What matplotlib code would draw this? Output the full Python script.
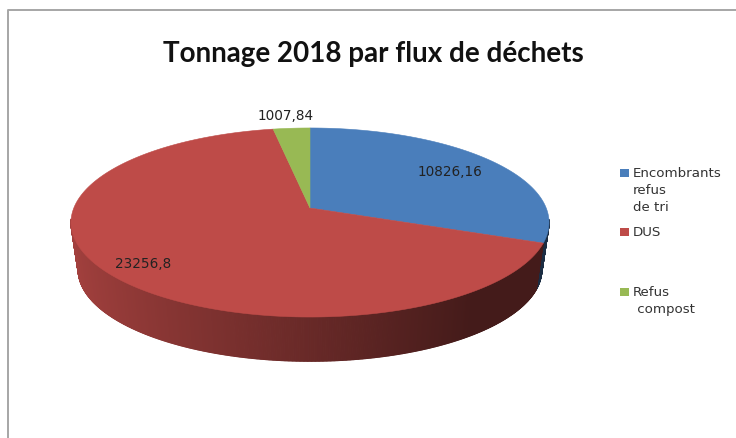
import numpy as np
import matplotlib
matplotlib.use("Agg")
import matplotlib.pyplot as plt
from matplotlib.patches import Polygon, Rectangle
from matplotlib.collections import PolyCollection

title = "Tonnage 2018 par flux de déchets"
categories = ["Encombrants\nrefus\nde tri", "DUS", "Refus\n compost"]
values = [10826.16, 23256.8, 1007.84]
value_labels = ["10826,16", "23256,8", "1007,84"]
colors = ["#4a7ebb", "#be4b48", "#98b954"]

W, H = 736, 439
fig = plt.figure(figsize=(W / 100, H / 100), dpi=100)
ax = fig.add_axes([0, 0, 1, 1])
ax.set_xlim(0, W)
ax.set_ylim(H, 0)
ax.axis("off")
plt.rcParams["font.family"] = ["DejaVu Sans"]

# perspective projection of the pie disc
CX, CY = 310.0, 209.0
K = 0.1534
RX, RY = 236.2, 92.3


def project(theta, scale=1.0, cy=CY):
    X, Y = np.sin(theta), np.cos(theta)
    w = 1 + K * Y
    return CX + scale * RX * X / w, cy - scale * RY * Y / w


BOT_S, BOT_CY = 0.97, 256.5
fractions = np.array(values) / np.sum(values)
edges = np.concatenate([[0], np.cumsum(fractions)]) * 2 * np.pi


def shade(c, t):
    rgb = np.array(matplotlib.colors.to_rgb(c))
    return tuple(rgb * t)


# side wall, shaded by position along the rim
quads, cols = [], []
for i, c in enumerate(colors):
    th = np.linspace(edges[i], edges[i + 1], max(4, int((edges[i + 1] - edges[i]) * 200)))
    for a, b in zip(th[:-1], th[1:]):
        m = (a + b) / 2
        if np.cos(m) > -0.12:
            continue
        xa, ya = project(a)
        xb, yb = project(b)
        xc, yc = project(b, BOT_S, BOT_CY)
        xd, yd = project(a, BOT_S, BOT_CY)
        quads.append([(xa, ya), (xb, yb), (xc, yc), (xd, yd)])
        f = np.clip((CX + RX * np.sin(m) - (CX - RX)) / (2 * RX) * 1.25, 0, 1)
        cols.append(shade(c, 0.86 - 0.5 * f))
ax.add_collection(PolyCollection(quads, facecolors=cols, edgecolors=cols, linewidths=0.8, zorder=2))

# top face
for i, c in enumerate(colors):
    th = np.linspace(edges[i], edges[i + 1], 200)
    xs, ys = project(th)
    ax.add_patch(Polygon(np.column_stack([np.r_[CX, xs], np.r_[CY, ys]]), closed=True,
                         facecolor=c, edgecolor=c, linewidth=0.4, zorder=3))

# frame
frame = "#a6a6a6"
ax.plot([8, 8, 736], [439, 11, 11], color=frame, lw=1.4, zorder=1)

ax.text(373, 54, title, ha="center", va="center", fontsize=20, fontweight="bold",
        color="#111111", family=["Lato", "DejaVu Sans"], zorder=5)

label_xy = [(450, 172), (143, 264), (286, 116)]
for s, (x, y) in zip(value_labels, label_xy):
    ax.text(x, y, s, ha="center", va="center", fontsize=9.8, color="#222222", zorder=5)

legend_y = [174, 233, 293]
for cat, c, y in zip(categories, colors, legend_y):
    ax.add_patch(Rectangle((620, y - 4), 9, 8, facecolor=c, edgecolor="none", zorder=5))
    ax.text(633, y - 6.5, cat, ha="left", va="top", fontsize=9.6, color="#333333",
            linespacing=1.36, zorder=5)

fig.savefig("out.png", dpi=100, facecolor="white")
